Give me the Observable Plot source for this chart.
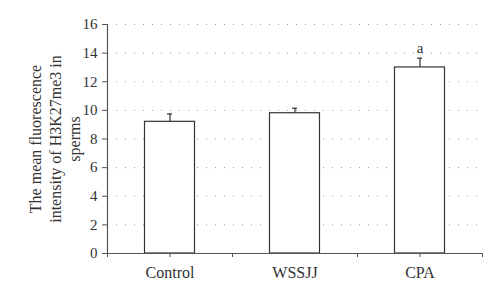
<!DOCTYPE html>
<html>
<head>
<meta charset="utf-8">
<script src="https://cdn.jsdelivr.net/npm/d3@7"></script>
<script src="https://cdn.jsdelivr.net/npm/@observablehq/plot@0.6"></script>
<style>
  html, body { margin: 0; padding: 0; background: #fff; }
  #chart svg { display: block; }
</style>
</head>
<body>
<div id="chart"></div>
<script>
const categories = ["Control", "WSSJJ", "CPA"];
const means = [9.2, 9.8, 13.0];
const errors = [0.55, 0.35, 0.65];
const sigLabels = ["", "", "a"];
const yTicks = [0, 2, 4, 6, 8, 10, 12, 14, 16];
const yLabelLines = ["The mean fluorescence", "intensity of H3K27me3 in", "sperms"];

const data = categories.map((c, i) => ({category: c, i, mean: means[i], err: errors[i], sig: sigLabels[i]}));

const font = "'Liberation Serif', 'Times New Roman', serif";
const ink = "#333";
const axisInk = "#555";

const chart = Plot.plot({
  width: 500,
  height: 296,
  marginLeft: 107,
  marginRight: 18,
  marginTop: 24,
  marginBottom: 43,
  style: {fontFamily: font, fontSize: "15px", color: ink, background: "#fff"},
  x: {type: "linear", domain: [0, categories.length], axis: null, label: null},
  y: {domain: [0, 16], axis: null, label: null},
  marks: [
    Plot.gridY(yTicks.filter(d => d > 0), {stroke: "#999", strokeOpacity: 1, strokeDasharray: "1,8", strokeWidth: 1}),
    Plot.rectY(data, {x1: d => d.i + 0.3, x2: d => d.i + 0.7, y1: 0, y2: "mean", fill: "#fff", stroke: ink, strokeWidth: 1.2}),
    Plot.ruleX(data, {x: d => d.i + 0.5, y1: "mean", y2: d => d.mean + d.err, stroke: ink, strokeWidth: 1.2}),
    Plot.ruleY(data, {x1: d => d.i + 0.48, x2: d => d.i + 0.52, y: d => d.mean + d.err, stroke: ink, strokeWidth: 1.2}),
    Plot.text(data, {x: d => d.i + 0.5, y: d => d.mean + d.err, text: "sig", dy: -10, fontSize: 15, fill: ink}),
    Plot.ruleY([0], {stroke: axisInk, strokeWidth: 1.2}),
    Plot.ruleX([0], {y1: 0, y2: 16, stroke: axisInk, strokeWidth: 1.2}),
    Plot.axisY({ticks: yTicks, tickSize: 5, tickPadding: 5, stroke: axisInk, fontSize: 15, fill: ink, label: null}),
    Plot.axisX({ticks: [0, 0.5, 1, 2, 2.5, 3], tickSize: 4, tickFormat: () => "", stroke: axisInk, label: null}),
    Plot.axisX({ticks: categories.map((c, i) => i + 0.5), tickSize: 0, tickPadding: 13, tickFormat: d => categories[Math.round(d - 0.5)], fontSize: 16, fill: ink, label: null}),
    Plot.text([yLabelLines.join("\n")], {frameAnchor: "left", textAnchor: "middle", rotate: -90, dx: -53, lineAnchor: "middle", lineHeight: 1.2, fontSize: 16, fill: ink})
  ]
});
document.getElementById("chart").appendChild(chart);
</script>
</body>
</html>
